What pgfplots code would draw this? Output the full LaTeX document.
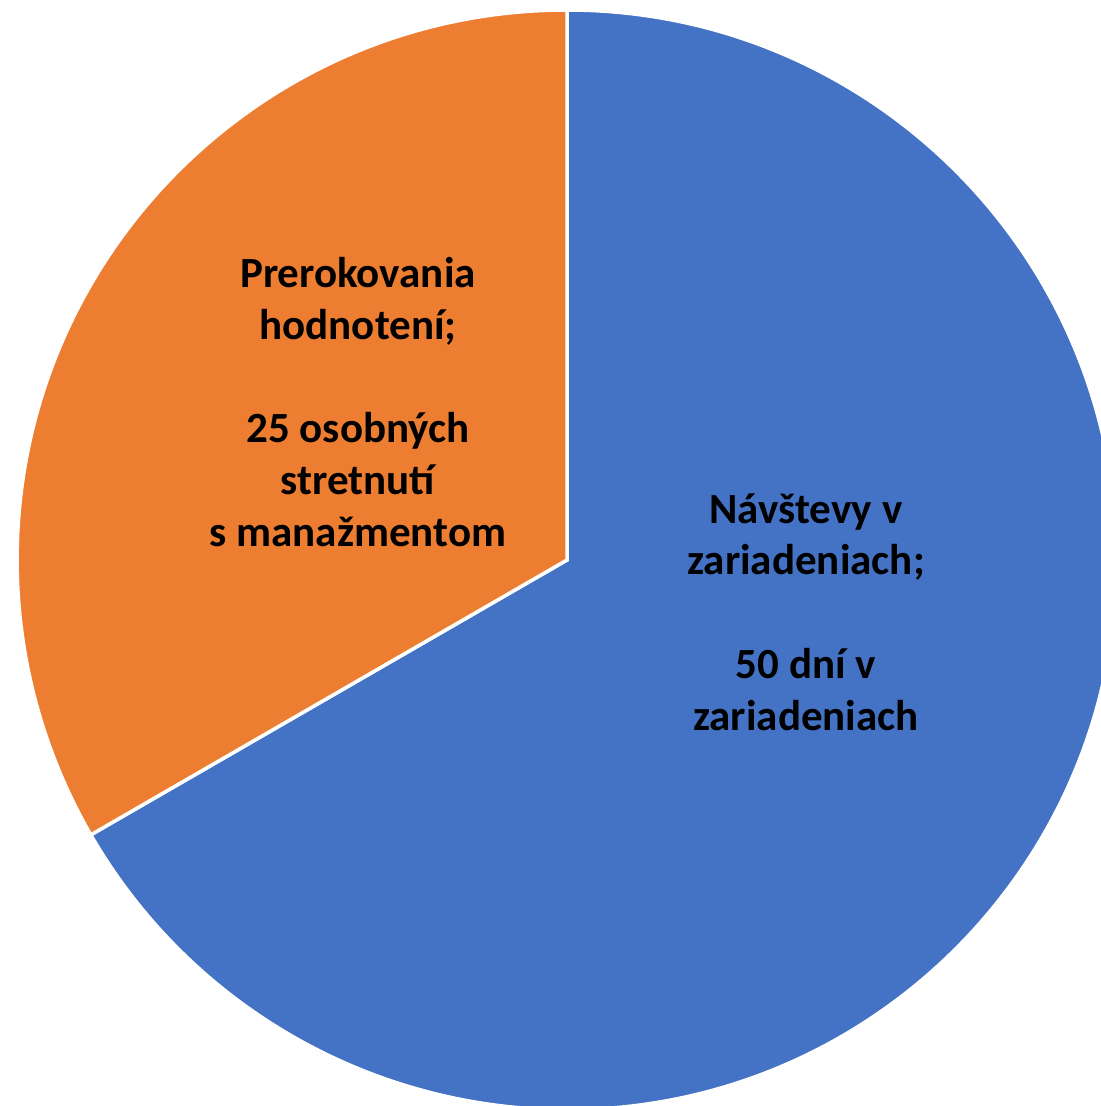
\documentclass[border=0pt]{standalone}
\usepackage{pgfplots}
\pgfplotsset{compat=1.18}
\usepackage{pgfplotstable}
\usepackage{fontspec}
\setmainfont{Carlito}
\definecolor{pieblue}{HTML}{4472C4}
\definecolor{pieorange}{HTML}{ED7D31}
\pgfplotstableread{
value
50
25
}\piedata
\begin{document}
\begin{tikzpicture}
\pgfplotstablegetelem{0}{value}\of\piedata \let\va\pgfplotsretval
\pgfplotstablegetelem{1}{value}\of\piedata \let\vb\pgfplotsretval
\pgfmathsetmacro{\frA}{\va/(\va+\vb)}
\pgfmathsetmacro{\angA}{90-360*\frA}
\pgfmathsetmacro{\angB}{\angA+360}
\begin{axis}[x=0.02cm, y=0.02cm, xmin=0, xmax=1101, ymin=-1106, ymax=0,
  hide axis, clip=true, scale only axis]
\path[fill=white] (axis cs:0,-1106) rectangle (axis cs:1101,0);
\filldraw[fill=pieblue, draw=white, line width=2pt]
  (axis cs:567,-560) -- (axis cs:567,-10) arc[start angle=90, end angle=\angA, radius=11cm] -- cycle;
\filldraw[fill=pieorange, draw=white, line width=2pt]
  (axis cs:567,-560) -- (axis cs:567,-10) arc[start angle=90, end angle=\angB, radius=11cm] -- cycle;
\node[align=center, font=\fontsize{24.5}{29.5}\selectfont\bfseries] at (axis cs:358,-402)
  {Prerokovania\\hodnotení;\\\mbox{}\\25 osobných\\stretnutí\\s manažmentom};
\node[align=center, font=\fontsize{24.5}{29.5}\selectfont\bfseries] at (axis cs:806,-612)
  {Návštevy v\\zariadeniach;\\\mbox{}\\50 dní v\\zariadeniach};
\end{axis}
\end{tikzpicture}
\end{document}
